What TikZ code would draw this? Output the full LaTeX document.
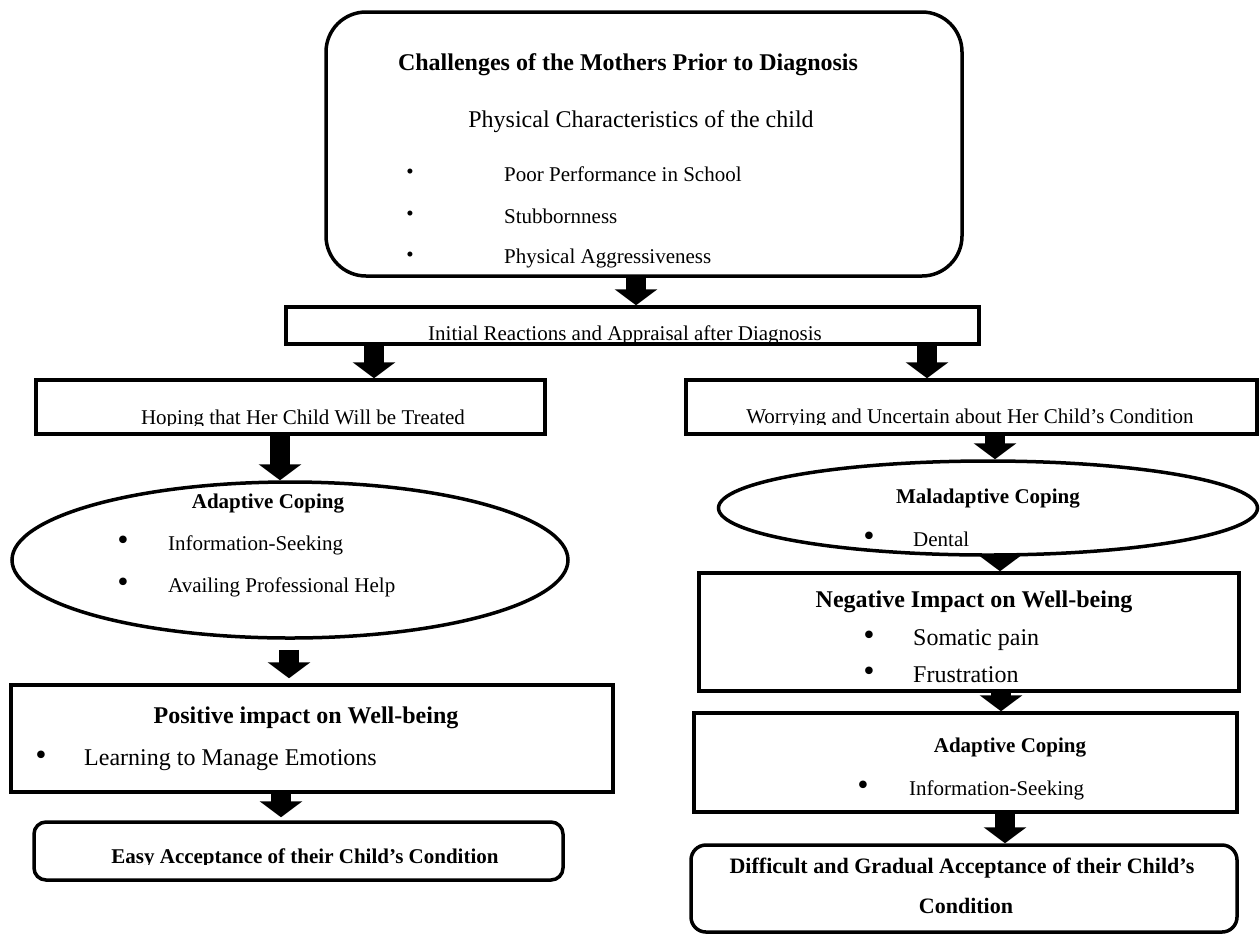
\documentclass[tikz,border=0pt]{standalone}
\usepackage{fontspec}
\setmainfont{Liberation Serif}
\newfontfamily\dotfont{DejaVu Sans}
\usepackage{tikz}
\usetikzlibrary{shapes.geometric, arrows.meta}

\begin{document}
\begin{tikzpicture}[x=1pt, y=-1pt,
        every node/.style={inner sep=0pt, font=\fontsize{21}{25}\selectfont},
        box/.style={draw, line width=3.5pt, rectangle},
        oval/.style={draw, line width=3.5pt, ellipse},
        hd/.style={font=\fontsize{21}{25}\selectfont\bfseries},
        bighd/.style={font=\fontsize{24}{28}\selectfont\bfseries},
        big/.style={font=\fontsize{24}{28}\selectfont},
        dot/.style={font=\dotfont\fontsize{26}{26}\selectfont},
        blk/.style={line width=20pt, -{Triangle[width=42pt,length=16pt]}}]
    \useasboundingbox (0,0) rectangle (1260,938);

    % shapes
    \node[box, rounded corners=40pt, minimum width=636pt, minimum height=264pt] (chal) at (644,144) {};
    \node[box, minimum width=693pt, minimum height=37pt] (init) at (632.5,325.5) {};
    \node[box, minimum width=509pt, minimum height=54pt] (hope) at (290.5,407) {};
    \node[box, minimum width=571pt, minimum height=54pt] (worry) at (971.5,407) {};
    \node[oval, minimum width=556pt, minimum height=156pt] (adapL) at (290,560) {};
    \node[oval, minimum width=539pt, minimum height=94pt] (malad) at (988,508) {};
    \node[box, minimum width=602pt, minimum height=107pt] (pos) at (312,738.5) {};
    \node[box, minimum width=540pt, minimum height=118pt] (neg) at (969,632) {};
    \node[box, minimum width=543pt, minimum height=99pt] (adapR) at (965.5,762.5) {};
    \node[box, rounded corners=12pt, minimum width=529pt, minimum height=58pt] (easy) at (298.5,851) {};
    \node[box, rounded corners=15pt, minimum width=546pt, minimum height=87pt] (diff) at (964,888.5) {};

    % top box text
    \node[bighd, anchor=base] (chalT) at (628,70) {Challenges of the Mothers Prior to Diagnosis};
    \node[big, anchor=base] (phys) at (641,127) {Physical Characteristics of the child};
    \node (b1) at (410,174) {\textbullet};
    \node[anchor=base west] (poor) at (504,181) {Poor Performance in School};
    \node (b2) at (410,216) {\textbullet};
    \node[anchor=base west] (stub) at (504,223) {Stubbornness};
    \node (b3) at (410,257) {\textbullet};
    \node[anchor=base west] (aggr) at (504,263) {Physical Aggressiveness};

    % texts cut by their boxes
    \begin{scope}
        \clip (286,307) rectangle (979,341);
        \node[anchor=base] (initT) at (625,340) {Initial Reactions and Appraisal after Diagnosis};
    \end{scope}
    \begin{scope}
        \clip (36,380) rectangle (545,425);
        \node[anchor=base] (hopeT) at (303,424) {Hoping that Her Child Will be Treated};
    \end{scope}
    \begin{scope}
        \clip (686,380) rectangle (1257,424.5);
        \node[anchor=base] (worryT) at (970,423.5) {Worrying and Uncertain about Her Child’s Condition};
    \end{scope}
    \begin{scope}
        \clip (34,822) rectangle (563,864);
        \node[hd, anchor=base] (easyT) at (305,863) {Easy Acceptance of their Child’s Condition};
    \end{scope}

    % left ellipse
    \node[hd, anchor=base] (adapLT) at (268,508) {Adaptive Coping};
    \node[dot] (b4) at (123,543) {•};
    \node[anchor=base west] (info1) at (168,550) {Information-Seeking};
    \node[dot] (b5) at (123,585) {•};
    \node[anchor=base west] (avail) at (168,592) {Availing Professional Help};

    % right ellipse
    \node[hd, anchor=base] (maladT) at (988,503) {Maladaptive Coping};
    \node[dot] (b6) at (869,539) {•};
    \node[anchor=base west] (dental) at (913,546) {Dental};

    % positive box
    \node[bighd, anchor=base] (posT) at (306,723) {Positive impact on Well-being};
    \node[dot] (b7) at (41,758) {•};
    \node[big, anchor=base west] (learn) at (84,765) {Learning to Manage Emotions};

    % negative box
    \node[bighd, anchor=base] (negT) at (974,607) {Negative Impact on Well-being};
    \node[dot] (b8) at (869,638) {•};
    \node[big, anchor=base west] (soma) at (913,645) {Somatic pain};
    \node[dot] (b9) at (869,674) {•};
    \node[big, anchor=base west] (frus) at (913,682) {Frustration};

    % right adaptive box
    \node[hd, anchor=base] (adapRT) at (1010,752) {Adaptive Coping};
    \node[dot] (b10) at (863,788) {•};
    \node[anchor=base west] (info2) at (909,795) {Information-Seeking};

    % last box
    \node[hd, font=\fontsize{22}{26}\selectfont\bfseries, anchor=base] (diffT) at (962,873) {Difficult and Gradual Acceptance of their Child’s};
    \node[hd, font=\fontsize{22}{26}\selectfont\bfseries, anchor=base] (diffT2) at (966,913) {Condition};

    % arrows
    \draw[blk] ([xshift=-8pt]chal.south) -- ([xshift=3.5pt]init.north);
    \draw[blk] ([xshift=-258.5pt]init.south) -- ([xshift=83.5pt]hope.north);
    \draw[blk] ([xshift=294.5pt]init.south) -- ([xshift=-44.5pt]worry.north);
    \draw[blk] ([xshift=-10.5pt]hope.south) -- ([xshift=-10pt]adapL.north);
    \draw[blk] ([xshift=23.5pt]worry.south) -- ([xshift=7pt]malad.north);
    \draw[blk, shorten <=10pt, shorten >=5pt] ([xshift=-1pt]adapL.south) -- ([xshift=-23pt]pos.north);
    \draw[blk] ([xshift=12pt]malad.south) -- ([xshift=31pt]neg.north);
    \draw[blk, shorten >=3pt] ([xshift=-31pt]pos.south) -- ([xshift=-17.5pt]easy.north);
    \draw[blk] ([xshift=32pt]neg.south) -- ([xshift=35.5pt]adapR.north);
    \draw[blk] ([xshift=39.5pt]adapR.south) -- ([xshift=41pt]diff.north);
\end{tikzpicture}
\end{document}
